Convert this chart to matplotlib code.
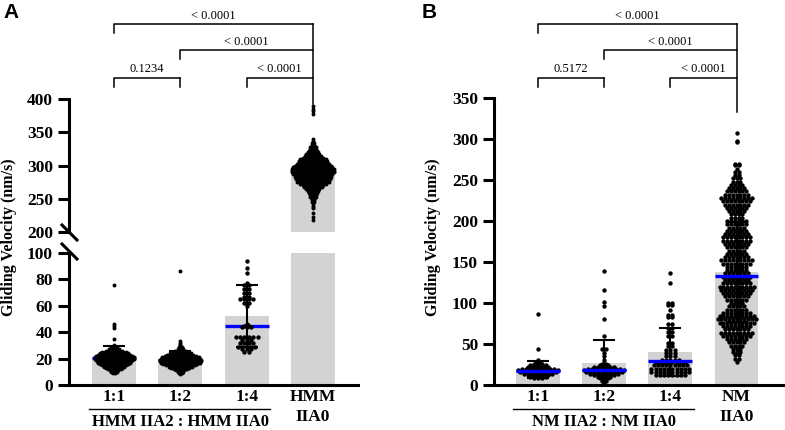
import matplotlib.pyplot as plt
import numpy as np
from matplotlib.transforms import blended_transform_factory
from matplotlib.lines import Line2D

plt.rcParams['font.family'] = ['Liberation Serif', 'DejaVu Serif']

# ---- data (rows of the scatter: value -> number of dots) ----
# panel A: HMM
a11_vals = [9, 10, 11, 12, 13, 14, 15, 16, 17, 18, 19, 20, 21, 22, 23, 24, 25, 26, 27, 28, 29, 30, 35, 43, 45, 46, 76]
a11_cnts = [2, 3, 4, 6, 7, 9, 10, 12, 13, 14, 15, 16, 16, 15, 13, 12, 10, 7, 5, 3, 2, 1, 1, 1, 1, 1, 1]
a12_vals = [8, 9, 10, 11, 12, 13, 14, 15, 16, 17, 18, 19, 20, 21, 22, 23, 24, 25, 26, 27, 28, 29, 30, 31, 32, 33, 86]
a12_cnts = [1, 2, 3, 4, 6, 8, 10, 12, 14, 16, 17, 17, 16, 15, 13, 11, 9, 7, 5, 3, 2, 2, 1, 1, 1, 1, 1]
a14_vals = [94, 89, 85, 77, 76, 73, 70, 67, 65, 62, 60, 46, 45, 44, 36, 34, 32, 29, 27, 25]
a14_cnts = [1, 1, 1, 1, 2, 2, 2, 2, 4, 2, 1, 1, 2, 3, 6, 3, 4, 5, 3, 2]
a0_vals = [218, 222, 228, 236, 238, 241, 245, 248, 250, 253, 256, 259, 262, 264, 267, 270, 272, 275,
           277, 280, 282, 285, 287, 290, 292, 295, 297, 300, 302, 305, 307, 310, 312, 315, 317, 320,
           322, 325, 328, 331, 334, 337, 340, 378, 382, 385, 390]
a0_cnts = [1, 1, 1, 1, 1, 1, 2, 2, 2, 3, 3, 4, 5, 6, 8, 9, 11, 13,
           12, 14, 15, 15, 16, 17, 17, 17, 16, 15, 13, 12, 12, 11, 9, 7, 6, 5,
           4, 3, 3, 2, 2, 1, 1, 1, 1, 1, 1]
a_labels = ['1:1', '1:2', '1:4', 'HMM\nIIA0']
a_means = [21.5, 19.5, 52.5, 289]
a_sds = [8, 6.5, 23.5, 25]
a_medians = [20.5, 19, 44.5, 292]
a_pvals = ['< 0.0001', '< 0.0001', '0.1234', '< 0.0001']
a_pairs = [(0, 3), (1, 3), (0, 1), (2, 3)]

# panel B: NM
b11_vals = [8, 10, 12, 14, 16, 18, 20, 22, 24, 26, 28, 30, 44, 86]
b11_cnts = [3, 5, 6, 8, 10, 11, 9, 6, 5, 3, 2, 1, 1, 1]
b12_vals = [2, 5, 8, 10, 12, 14, 16, 18, 20, 22, 24, 26, 30, 35, 39, 44, 60, 80, 96, 101, 116, 139]
b12_cnts = [1, 2, 3, 4, 6, 8, 10, 11, 9, 6, 3, 2, 1, 1, 1, 2, 1, 1, 1, 1, 1, 1]
b14_vals = [12, 16, 20, 24, 28, 31, 35, 39, 43, 47, 51, 60, 65, 70, 75, 83, 85, 92, 97, 100, 125, 136]
b14_cnts = [8, 10, 10, 9, 8, 5, 3, 3, 3, 2, 2, 2, 2, 2, 2, 2, 2, 1, 2, 2, 1, 1]
b0_vals = [28, 32, 36, 40, 44, 48, 52, 56, 60, 64, 68, 72, 76, 80, 84, 88, 92, 96, 100, 104, 108,
           112, 116, 120, 124, 128, 132, 136, 140, 144, 148, 152, 156, 160, 164, 168, 172, 176, 180,
           184, 188, 192, 196, 200, 204, 208, 212, 216, 220, 224, 228, 232, 236, 240, 244, 248, 252,
           256, 260, 264, 268, 270, 296, 298, 307]
b0_cnts = [1, 2, 2, 3, 3, 4, 5, 6, 8, 9, 7, 8, 10, 11, 10, 8, 6, 5, 4, 6, 7,
           8, 9, 10, 8, 7, 8, 7, 6, 6, 8, 9, 7, 6, 5, 6, 7, 8, 8,
           7, 6, 5, 6, 6, 4, 4, 5, 6, 7, 8, 9, 7, 6, 5, 4, 3, 3,
           2, 2, 1, 2, 2, 1, 1, 1]
b_labels = ['1:1', '1:2', '1:4', 'NM\nIIA0']
b_means = [18.5, 27, 40.5, 138]
b_sds = [10.5, 28, 29.5, 61]
b_medians = [17.5, 18, 29, 133]
b_pvals = ['< 0.0001', '< 0.0001', '0.5172', '< 0.0001']
b_pairs = [(0, 3), (1, 3), (0, 1), (2, 3)]

W, H = 785, 430
fig = plt.figure(figsize=(W / 100, H / 100), dpi=100)


def px_axes(left, top, right, bottom):
    return fig.add_axes([left / W, 1 - bottom / H, (right - left) / W, (bottom - top) / H])


def style(ax, bottom=True):
    for s in ['top', 'right']:
        ax.spines[s].set_visible(False)
    ax.spines['left'].set_linewidth(2.2)
    ax.spines['bottom'].set_linewidth(2.2)
    ax.spines['bottom'].set_visible(bottom)
    ax.tick_params(axis='y', width=2.2, length=8, pad=3.5, labelsize=12.5)
    ax.tick_params(axis='x', length=0, pad=3, labelsize=12.5)
    for t in ax.get_yticklabels() + ax.get_xticklabels():
        t.set_fontweight('bold')
    ax.set_facecolor('none')


def swarm(ax, center, vals, cnts, dx_px, size):
    x0, x1 = ax.get_xlim()
    ppu = ax.get_position().width * W / (x1 - x0)
    xs, ys = [], []
    for v, n in zip(vals, cnts):
        off = (np.arange(n) - (n - 1) / 2) * dx_px / ppu
        xs.extend(center + off)
        ys.extend([v] * n)
    ax.scatter(xs, ys, s=size, c='black', linewidths=0, zorder=3, clip_on=False)


def draw_groups(ax, groups, means, sds, meds, dxs, sizes, blue_z):
    for i, (vals, cnts) in enumerate(groups):
        ax.bar(i, means[i], width=0.66, color='#d3d3d3', zorder=1)
        swarm(ax, i, vals, cnts, dxs[i], sizes[i])
        ax.errorbar(i, means[i], yerr=sds[i], fmt='none', ecolor='black',
                    elinewidth=1.5, capsize=8, capthick=1.5, zorder=4)
        ax.hlines(meds[i], i - 0.33, i + 0.33, colors='#0000ff', lw=2.4, zorder=blue_z)


def brackets(ax, pairs, pvals, leg_bottom_px):
    tr = blended_transform_factory(ax.transData, fig.transFigure)
    levels = [24, 50, 77.5, 77.5]
    for (i, j), p, lv in zip(pairs, pvals, levels):
        y = 1 - lv / H
        leg = 9 / H
        ax.plot([i, i, j], [y - leg, y, y], color='black', lw=1.1, transform=tr, clip_on=False)
        if j != 3:
            ax.plot([j, j], [y, y - leg], color='black', lw=1.1, transform=tr, clip_on=False)
        ax.text((i + j) / 2, y + 2 / H, p, ha='center', va='bottom', fontsize=9,
                transform=tr)
    ax.plot([3, 3], [1 - 24 / H, 1 - leg_bottom_px / H], color='black', lw=1.1,
            transform=tr, clip_on=False)


def group_label(ax, text):
    tr = blended_transform_factory(ax.transData, fig.transFigure)
    ax.plot([-0.38, 2.35], [1 - 409 / H, 1 - 409 / H], color='black', lw=1.0,
            transform=tr, clip_on=False)
    ax.text(1, 1 - 425.5 / H, text, ha='center', va='baseline', fontsize=12,
            fontweight='bold', transform=tr)


# ---- panel A (broken axis) ----
lo = px_axes(69, 253, 358, 385)
up = px_axes(69, 99, 358, 232)
for ax in (lo, up):
    ax.set_xlim(-0.68, 3.68)
lo.set_ylim(0, 100)
up.set_ylim(200, 400)
lo.set_yticks([0, 20, 40, 60, 80, 100])
up.set_yticks([200, 250, 300, 350, 400])
lo.set_xticks(range(4))
lo.set_xticklabels(a_labels, linespacing=1.35)
up.set_xticks([])

a_groups = [(a11_vals, a11_cnts), (a12_vals, a12_cnts), (a14_vals, a14_cnts), (a0_vals, a0_cnts)]
for ax in (lo, up):
    ax.bar(3, a_means[3], width=0.66, color='#d3d3d3', zorder=1)
# lower axis shows values below 100 only
draw_groups(lo, a_groups[:3], a_means, a_sds, a_medians, [2.6, 2.6, 4.4], [8, 8, 10], 2.5)
up.hlines(a_medians[3], 3 - 0.33, 3 + 0.33, colors='#0000ff', lw=2.4, zorder=2.5)
swarm(up, 3, a0_vals, a0_cnts, 2.6, 8)
style(lo)
style(up, bottom=False)

# break marks on the y axis
for yb in (232.5, 251.5):
    fig.add_artist(Line2D([62 / W, 77 / W], [1 - (yb - 7.5) / H, 1 - (yb + 7.5) / H],
                          color='black', lw=2.2))

brackets(up, a_pairs, a_pvals, 104)
group_label(lo, 'HMM IIA2 : HMM IIA0')
fig.text(9 / W, 1 - 237 / H, 'Gliding Velocity (nm/s)', rotation=90, ha='center', va='center',
         fontsize=11.5, fontweight='bold')
fig.text(3 / W, 1 - 3 / H, 'A', ha='left', va='top', fontsize=15, fontweight='bold',
         family='Liberation Sans')

# ---- panel B ----
axb = px_axes(494, 98, 783, 385)
axb.set_xlim(-0.66, 3.70)
axb.set_ylim(0, 350)
axb.set_yticks([0, 50, 100, 150, 200, 250, 300, 350])
axb.set_xticks(range(4))
axb.set_xticklabels(b_labels, linespacing=1.35)
b_groups = [(b11_vals, b11_cnts), (b12_vals, b12_cnts), (b14_vals, b14_cnts), (b0_vals, b0_cnts)]
draw_groups(axb, b_groups, b_means, b_sds, b_medians, [4.0, 4.0, 4.2, 3.8], [10, 10, 10, 10], 5)
style(axb)
brackets(axb, b_pairs, b_pvals, 112)
group_label(axb, 'NM IIA2 : NM IIA0')
fig.text(433 / W, 1 - 237 / H, 'Gliding Velocity (nm/s)', rotation=90, ha='center', va='center',
         fontsize=11.5, fontweight='bold')
fig.text(422 / W, 1 - 3 / H, 'B', ha='left', va='top', fontsize=15, fontweight='bold',
         family='Liberation Sans')

fig.savefig('out.png', dpi=100)
